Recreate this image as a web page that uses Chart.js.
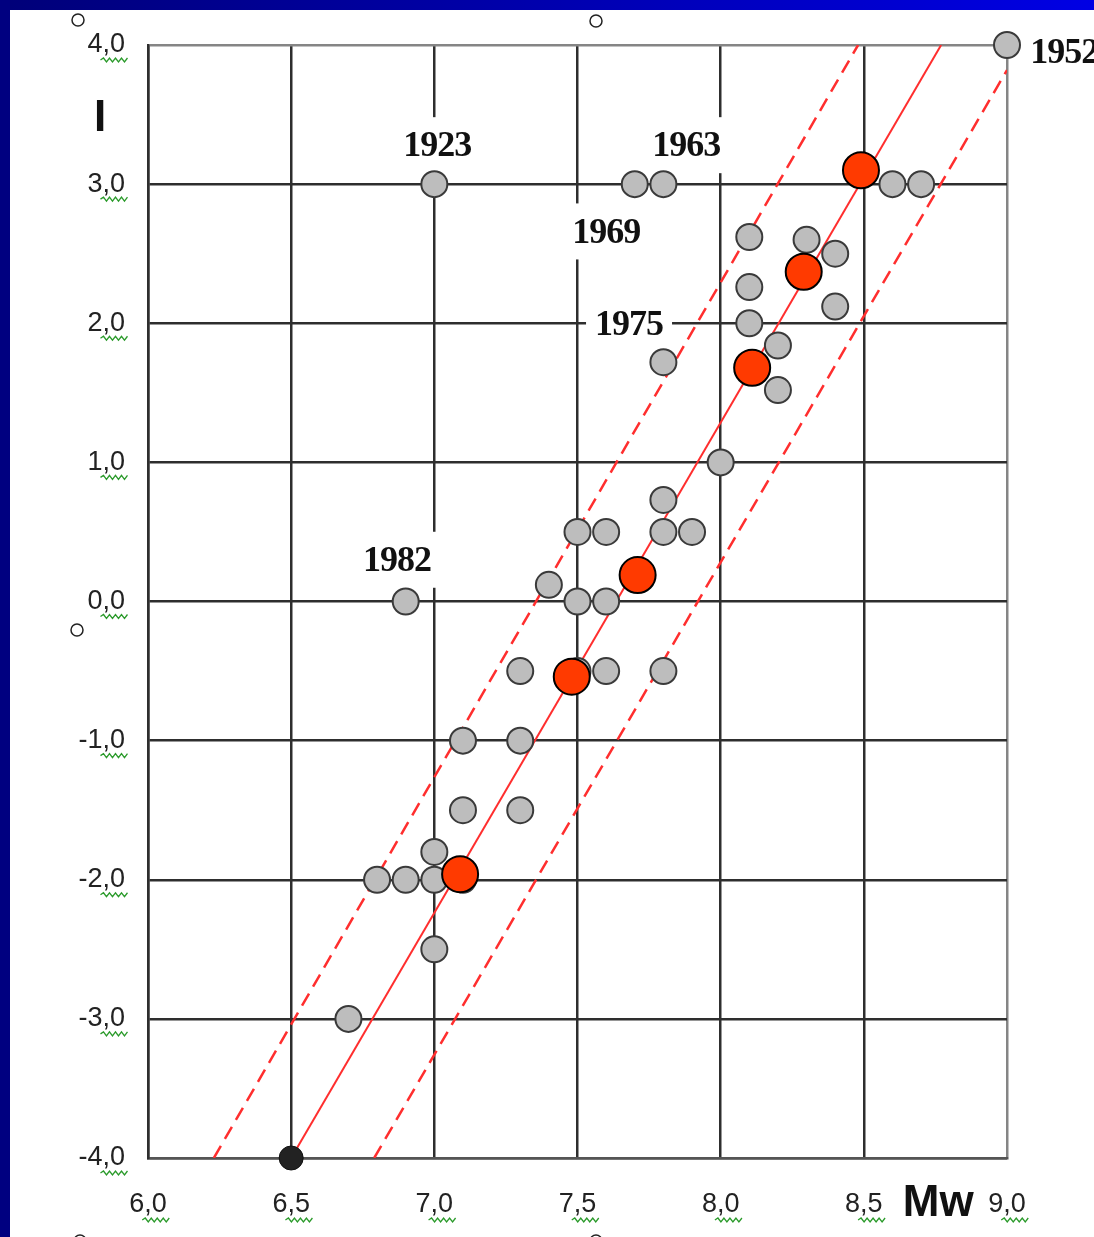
<!DOCTYPE html>
<html>
<head>
<meta charset="utf-8">
<script src="https://cdn.jsdelivr.net/npm/chart.js@4.4.0/dist/chart.umd.min.js"></script>
<style>
  html, body { margin: 0; padding: 0; background: #fff; overflow: hidden; }
  #wrap { width: 1094px; height: 1237px; }
</style>
</head>
<body>
<div id="wrap"><canvas id="chart" width="1094" height="1237"></canvas></div>
<script>
// earthquake catalogue points (Mw vs I)
const grayMw = [9.0, 7.0, 7.7, 7.8, 8.6, 8.7, 8.1, 8.3, 8.4, 8.1, 8.1, 8.4, 8.2, 8.2, 7.8, 8.0, 7.8,
                7.5, 7.6, 7.8, 7.9, 7.4, 6.9, 7.5, 7.6, 7.3, 7.5, 7.6, 7.8, 7.1, 7.3, 7.1, 7.3,
                7.0, 6.8, 6.9, 7.0, 7.1, 7.0, 6.7];
const grayI  = [4.0, 3.0, 3.0, 3.0, 3.0, 3.0, 2.62, 2.6, 2.5, 2.26, 2.0, 2.12, 1.84, 1.52, 1.72, 1.0, 0.73,
                0.5, 0.5, 0.5, 0.5, 0.12, 0.0, 0.0, 0.0, -0.5, -0.5, -0.5, -0.5, -1.0, -1.0, -1.5, -1.5,
                -1.8, -2.0, -2.0, -2.0, -2.0, -2.5, -3.0];

const redMw = [8.49, 8.29, 8.11, 7.71, 7.48, 7.09];
const redI  = [3.1, 2.37, 1.68, 0.19, -0.54, -1.96];

const blackMw = [6.5];
const blackI  = [-4.0];

// regression line and its band
const fitMw = [6.5, 8.77];
const fitI  = [-4.0, 4.0];
const bandLeftMw = [6.23, 8.48];
const bandLeftI  = [-4.0, 4.0];
const bandRightMw = [6.79, 9.0];
const bandRightI  = [-4.0, 3.82];

// year labels
const years  = ['1952', '1923', '1963', '1969', '1975', '1982'];
const yearMw = [9.2, 7.01, 7.88, 7.6, 7.68, 6.87];
const yearI  = [3.95, 3.28, 3.28, 2.66, 2.0, 0.30];

const xMin = 6.0, xMax = 9.0, xStep = 0.5;
const yMin = -4.0, yMax = 4.0, yStep = 1.0;

const pts = (xs, ys) => xs.map((x, i) => ({ x: x, y: ys[i] }));
const fmt = v => Number(v).toFixed(1).replace('.', ',');

const TICK_FONT = { family: '"Liberation Sans", Arial, sans-serif', size: 27 };

const decorPlugin = {
    id: 'decor',
    beforeDraw(chart) {
        const c = chart.ctx;
        c.save();
        c.fillStyle = '#fff';
        c.fillRect(0, 0, chart.width, chart.height);
        const g = c.createLinearGradient(0, 0, chart.width, 0);
        g.addColorStop(0, '#000078');
        g.addColorStop(1, '#0000e4');
        c.fillStyle = g;
        c.fillRect(0, 0, chart.width, 10);
        c.fillStyle = '#000080';
        c.fillRect(0, 0, 10, chart.height);
        c.restore();
    },
    beforeDatasetsDraw(chart) {
        const c = chart.ctx;
        const xs = chart.scales.x, ys = chart.scales.y;
        c.save();
        c.font = 'bold 36px "Liberation Serif", "Times New Roman", serif';
        c.letterSpacing = '-1px';
        c.textAlign = 'center';
        c.textBaseline = 'middle';
        years.forEach((t, i) => {
            const px = xs.getPixelForValue(yearMw[i]);
            const py = ys.getPixelForValue(yearI[i]);
            const w = c.measureText(t).width;
            if (i > 0) {
                c.fillStyle = '#fff';
                c.fillRect(px - w / 2 - 9, py - 28, w + 18, 56);
            }
            c.fillStyle = '#111';
            c.fillText(t, px, py + 2);
        });
        c.restore();
    },
    afterDraw(chart) {
        const c = chart.ctx;
        const xs = chart.scales.x, ys = chart.scales.y;
        const area = chart.chartArea;
        c.save();

        // axis titles
        c.fillStyle = '#111';
        c.font = 'bold 44px "Liberation Sans", Arial, sans-serif';
        c.textAlign = 'center';
        c.textBaseline = 'middle';
        c.fillText('I', 100, ys.getPixelForValue(3.47));
        c.fillText('Mw', xs.getPixelForValue(8.76), area.bottom + 46);

        // green spell-check squiggles under tick labels
        c.font = '27px "Liberation Sans", Arial, sans-serif';
        c.strokeStyle = '#2a9a2a';
        c.lineWidth = 1.3;
        const squiggle = (x0, x1, y) => {
            c.beginPath();
            let up = true;
            c.moveTo(x0, y);
            for (let x = x0 + 3; x <= x1; x += 3) {
                c.lineTo(x, up ? y - 2 : y + 2);
                up = !up;
            }
            c.stroke();
        };
        ys.ticks.forEach(t => {
            const s = fmt(t.value);
            const right = area.left - 23;
            const w = c.measureText(s).width;
            const w0 = c.measureText(s.slice(0, s.indexOf(','))).width;
            const cy = ys.getPixelForValue(t.value);
            squiggle(right - w + w0 - 2, right + 5, cy + 15);
        });
        xs.ticks.forEach(t => {
            const s = fmt(t.value);
            const cx = xs.getPixelForValue(t.value);
            const w = c.measureText(s).width;
            const w0 = c.measureText(s.slice(0, s.indexOf(','))).width;
            squiggle(cx - w / 2 + w0 - 2, cx + w / 2 + 5, area.bottom + 62);
        });

        // small hollow selection handles
        c.strokeStyle = '#222';
        c.lineWidth = 1.5;
        [[78, 20], [596, 21], [77, 630], [80, 1241], [596, 1241]].forEach(p => {
            c.beginPath();
            c.arc(p[0], p[1], 6, 0, Math.PI * 2);
            c.stroke();
        });
        c.restore();
    }
};

new Chart(document.getElementById('chart'), {
    type: 'scatter',
    data: {
        datasets: [
            {
                type: 'line', data: pts(fitMw, fitI), borderColor: '#ff2e2e', borderWidth: 2,
                pointRadius: 0, fill: false, order: 5
            },
            {
                type: 'line', data: pts(bandLeftMw, bandLeftI), borderColor: '#ff2e2e', borderWidth: 2.5,
                borderDash: [14, 8], pointRadius: 0, fill: false, order: 5
            },
            {
                type: 'line', data: pts(bandRightMw, bandRightI), borderColor: '#ff2e2e', borderWidth: 2.5,
                borderDash: [14, 8], pointRadius: 0, fill: false, order: 5
            },
            {
                data: pts(grayMw, grayI), backgroundColor: '#bdbdbd', borderColor: '#3a3a3a',
                borderWidth: 2, pointRadius: 13, order: 3, clip: false
            },
            {
                data: pts(blackMw, blackI), backgroundColor: '#222', borderColor: '#111',
                borderWidth: 1, pointRadius: 12, order: 2, clip: false
            },
            {
                data: pts(redMw, redI), backgroundColor: '#ff3a00', borderColor: '#000',
                borderWidth: 2, pointRadius: 18, order: 1, clip: false
            }
        ]
    },
    options: {
        responsive: false,
        animation: false,
        layout: { padding: { left: 0, top: 45, right: 87, bottom: 0 } },
        plugins: { legend: { display: false }, tooltip: { enabled: false } },
        scales: {
            x: {
                type: 'linear', min: xMin, max: xMax,
                afterFit: s => { s.height = 79; },
                ticks: {
                    stepSize: xStep, callback: v => fmt(v), font: TICK_FONT, color: '#222',
                    padding: 30, maxRotation: 0
                },
                grid: {
                    drawTicks: false, lineWidth: 2.5,
                    color: c => (c.tick && c.tick.value === xMax) ? '#858585' : '#2e2e2e'
                },
                border: { display: true, color: '#555', width: 2.5 }
            },
            y: {
                type: 'linear', min: yMin, max: yMax,
                afterFit: s => { s.width = 148; },
                ticks: { stepSize: yStep, callback: v => fmt(v), font: TICK_FONT, color: '#222', padding: 23 },
                grid: {
                    drawTicks: false, lineWidth: 2.5,
                    color: c => (c.tick && c.tick.value === yMax) ? '#858585' : '#2e2e2e'
                },
                border: { display: true, color: '#2e2e2e', width: 2.5 }
            }
        }
    },
    plugins: [decorPlugin]
});
</script>
</body>
</html>
